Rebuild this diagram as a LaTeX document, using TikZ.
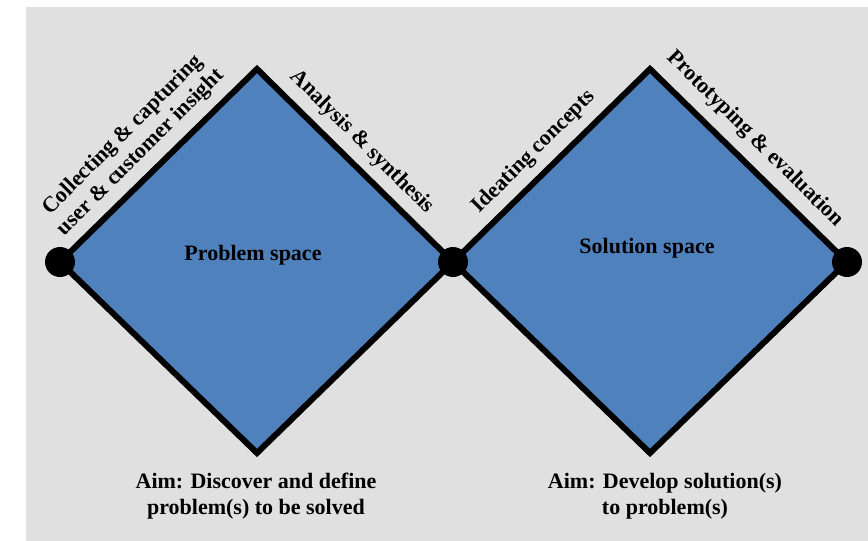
\documentclass[tikz,border=0pt]{standalone}
\usepackage{fontspec}
\setmainfont{Liberation Serif}
\definecolor{bggray}{RGB}{224,224,224}
\definecolor{spaceblue}{RGB}{79,129,189}
\begin{document}
\begin{tikzpicture}[x=1pt,y=-1pt,
  edge/.style={draw=black,line width=6pt,line join=miter},
  spacefill/.style={fill=spaceblue},
  dot/.style={circle,fill=black,inner sep=0pt,minimum size=30pt},
  lbl/.style={font=\bfseries\fontsize{22}{25}\selectfont,inner sep=0pt,align=center},
  aim/.style={font=\bfseries\fontsize{22}{26}\selectfont,inner sep=0pt,align=center}]
\useasboundingbox (0,0) rectangle (868,541);
\fill[bggray] (26,7) rectangle (868,541);
% vertices
\coordinate (p1) at (60,262);
\coordinate (t1) at (257,69);
\coordinate (b1) at (257,453);
\coordinate (p2) at (453,262);
\coordinate (t2) at (650,69);
\coordinate (b2) at (650,453);
\coordinate (p3) at (847,262);
% diamonds
\fill[spacefill] (p1) -- (t1) -- (p2) -- (b1) -- cycle;
\fill[spacefill] (p2) -- (t2) -- (p3) -- (b2) -- cycle;
\draw[edge] (p1) -- (t1) -- (p2) -- (b1) -- cycle;
\draw[edge] (p2) -- (t2) -- (p3) -- (b2) -- cycle;
% dots
\node[dot] (d1) at (p1) {};
\node[dot] (d2) at (p2) {};
\node[dot] (d3) at (p3) {};
% labels
\node[lbl,rotate=45] (collect) at (132,144) {Collecting \& capturing\\user \& customer insight};
\node[lbl,rotate=-45] (analysis) at (362,142) {Analysis \& synthesis};
\node[lbl,rotate=45] (ideate) at (534,152) {Ideating concepts};
\node[lbl,rotate=-45] (proto) at (755,139) {Prototyping \& evaluation};
\node[lbl] (prob) at (253,255) {Problem space};
\node[lbl] (sol) at (647,248) {Solution space};
\node[aim] (aim1) at (256,496) {Aim: Discover and define\\problem(s) to be solved};
\node[aim] (aim2) at (665,496) {Aim: Develop solution(s)\\to problem(s)};
\end{tikzpicture}
\end{document}
